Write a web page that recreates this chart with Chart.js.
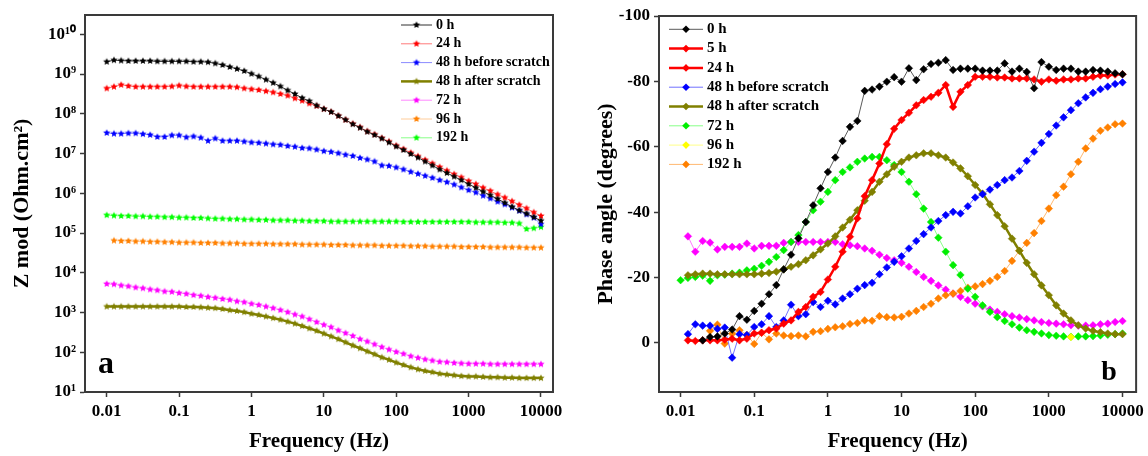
<!DOCTYPE html>
<html><head><meta charset="utf-8">
<script src="https://cdn.jsdelivr.net/npm/chart.js@4.4.1/dist/chart.umd.min.js"></script>
<style>
html,body{margin:0;padding:0;background:#fff;}
#wrap{position:relative;width:1148px;height:456px;overflow:hidden;background:#fff;}
canvas{position:absolute;top:0;}
#ca{left:0;} #cb{left:574px;}
</style></head><body>
<div id="wrap"><canvas id="ca" width="574" height="456"></canvas><canvas id="cb" width="574" height="456"></canvas></div>
<script>
// ---------- shared categories / ticks ----------
const frequencies = [
  0.01, 0.01259, 0.01585, 0.01995, 0.02512, 0.03162, 0.03981, 0.05012, 0.0631, 0.07943,
  0.1, 0.1259, 0.1585, 0.1995, 0.2512, 0.3162, 0.3981, 0.5012, 0.631, 0.7943,
  1, 1.259, 1.585, 1.995, 2.512, 3.162, 3.981, 5.012, 6.31, 7.943,
  10, 12.59, 15.85, 19.95, 25.12, 31.62, 39.81, 50.12, 63.1, 79.43,
  100, 125.9, 158.5, 199.5, 251.2, 316.2, 398.1, 501.2, 631, 794.3,
  1000, 1259, 1585, 1995, 2512, 3162, 3981, 5012, 6310, 7943, 10000];
const xTickValues = [0.01, 0.1, 1, 10, 100, 1000, 10000];
const xTickLabels = ['0.01', '0.1', '1', '10', '100', '1000', '10000'];
const zTickValues = [1e1, 1e2, 1e3, 1e4, 1e5, 1e6, 1e7, 1e8, 1e9, 1e10];
const zTickLabels = ['10¹', '10²', '10³', '10⁴', '10⁵', '10⁶', '10⁷', '10⁸', '10⁹', '10¹⁰'];
const phaseTickValues = [-100, -80, -60, -40, -20, 0];
const phaseTickLabels = ['-100', '-80', '-60', '-40', '-20', '0'];

// ---------- panel a : |Z| (Ohm.cm2) ----------
const zLabels = ['0 h', '24 h', '48 h before scratch', '48 h after scratch', '72 h', '96 h', '192 h'];
const z0h = [
  2.04e9, 2.24e9, 2.19e9, 2.14e9, 2.14e9, 2.14e9, 2.14e9, 2.09e9, 2.09e9, 2.09e9,
  2.09e9, 2.09e9, 2.04e9, 2.04e9, 2.0e9, 1.86e9, 1.70e9, 1.51e9, 1.35e9, 1.20e9,
  1.02e9, 8.71e8, 7.24e8, 6.03e8, 4.90e8, 3.89e8, 3.16e8, 2.51e8, 2.09e8, 1.62e8,
  1.32e8, 1.12e8, 8.91e7, 7.08e7, 5.50e7, 4.47e7, 3.55e7, 2.95e7, 2.40e7, 1.91e7,
  1.51e7, 1.23e7, 9.77e6, 7.94e6, 6.31e6, 5.01e6, 3.98e6, 3.24e6, 2.63e6, 2.14e6,
  1.70e6, 1.38e6, 1.10e6, 8.91e5, 7.24e5, 5.75e5, 4.57e5, 3.72e5, 3.09e5, 2.51e5, 2.04e5];
const z24h = [
  4.37e8, 4.79e8, 5.37e8, 5.01e8, 4.79e8, 4.79e8, 4.79e8, 4.79e8, 4.79e8, 4.90e8,
  5.13e8, 4.90e8, 4.79e8, 4.79e8, 4.79e8, 4.79e8, 4.79e8, 4.79e8, 4.68e8, 4.37e8,
  4.17e8, 3.98e8, 3.72e8, 3.47e8, 3.16e8, 2.88e8, 2.45e8, 2.14e8, 1.82e8, 1.58e8,
  1.32e8, 1.12e8, 8.91e7, 7.08e7, 5.62e7, 4.57e7, 3.63e7, 3.02e7, 2.45e7, 2.00e7,
  1.58e7, 1.29e7, 1.05e7, 8.51e6, 6.92e6, 5.62e6, 4.57e6, 3.72e6, 3.02e6, 2.51e6,
  2.04e6, 1.70e6, 1.38e6, 1.15e6, 9.33e5, 7.76e5, 6.31e5, 5.13e5, 4.17e5, 3.31e5, 2.69e5];
const z48hBefore = [
  3.31e7, 3.16e7, 3.16e7, 3.24e7, 3.24e7, 3.09e7, 2.95e7, 2.63e7, 2.63e7, 2.88e7,
  2.88e7, 2.57e7, 2.69e7, 2.51e7, 2.09e7, 2.40e7, 2.09e7, 2.09e7, 2.09e7, 2.00e7,
  1.91e7, 1.86e7, 1.78e7, 1.70e7, 1.66e7, 1.55e7, 1.48e7, 1.38e7, 1.35e7, 1.26e7,
  1.15e7, 1.10e7, 1.02e7, 9.33e6, 8.71e6, 7.76e6, 7.08e6, 6.31e6, 5.01e6, 4.90e6,
  4.47e6, 3.98e6, 3.47e6, 3.09e6, 2.75e6, 2.45e6, 2.14e6, 1.91e6, 1.66e6, 1.41e6,
  1.20e6, 1.05e6, 8.71e5, 7.41e5, 6.17e5, 5.25e5, 4.37e5, 3.63e5, 2.95e5, 2.45e5, 1.66e5];
const z48hAfter = [
  1410, 1410, 1410, 1410, 1410, 1410, 1410, 1410, 1410, 1410,
  1410, 1380, 1380, 1349, 1318, 1288, 1230, 1148, 1096, 1023,
  933, 871, 794, 724, 661, 589, 525, 457, 398, 347,
  295, 251, 214, 178, 148, 126, 105, 89.1, 74.1, 64.6,
  55.0, 47.9, 41.7, 37.2, 33.9, 31.6, 28.8, 27.5, 26.3, 25.1,
  24.5, 24.5, 24.0, 23.4, 23.4, 22.9, 22.9, 22.4, 22.4, 22.4, 22.4];
const z72h = [
  5250, 5130, 4790, 4570, 4270, 4070, 3800, 3630, 3390, 3310,
  3090, 2950, 2750, 2630, 2450, 2340, 2190, 2090, 1910, 1820,
  1660, 1550, 1410, 1290, 1150, 1020, 891, 794, 676, 575,
  490, 427, 355, 302, 257, 214, 186, 158, 135, 117,
  102, 91.2, 79.4, 72.4, 66.1, 61.7, 57.5, 56.2, 53.7, 52.5,
  51.3, 51.3, 51.3, 50.1, 50.1, 50.1, 50.1, 50.1, 50.1, 50.1, 50.1];
const z96h = [
  null, 6.46e4, 6.31e4, 6.31e4, 6.17e4, 6.17e4, 6.03e4, 6.03e4, 5.89e4, 5.89e4,
  5.75e4, 5.75e4, 5.75e4, 5.62e4, 5.62e4, 5.62e4, 5.50e4, 5.50e4, 5.50e4, 5.37e4,
  5.37e4, 5.37e4, 5.37e4, 5.25e4, 5.25e4, 5.25e4, 5.25e4, 5.13e4, 5.13e4, 5.13e4,
  5.13e4, 5.01e4, 5.01e4, 5.01e4, 4.90e4, 4.90e4, 4.90e4, 4.90e4, 4.79e4, 4.79e4,
  4.79e4, 4.79e4, 4.68e4, 4.68e4, 4.68e4, 4.57e4, 4.57e4, 4.57e4, 4.57e4, 4.47e4,
  4.47e4, 4.47e4, 4.47e4, 4.37e4, 4.37e4, 4.37e4, 4.37e4, 4.37e4, 4.27e4, 4.27e4, 4.27e4];
const z192h = [
  2.82e5, 2.75e5, 2.69e5, 2.69e5, 2.63e5, 2.63e5, 2.57e5, 2.57e5, 2.51e5, 2.51e5,
  2.45e5, 2.45e5, 2.40e5, 2.40e5, 2.34e5, 2.29e5, 2.29e5, 2.24e5, 2.24e5, 2.19e5,
  2.19e5, 2.14e5, 2.14e5, 2.09e5, 2.09e5, 2.09e5, 2.04e5, 2.04e5, 2.00e5, 2.00e5,
  2.00e5, 1.95e5, 1.95e5, 1.95e5, 1.95e5, 1.95e5, 1.95e5, 1.95e5, 1.95e5, 1.95e5,
  1.95e5, 1.91e5, 1.91e5, 1.91e5, 1.91e5, 1.91e5, 1.91e5, 1.91e5, 1.91e5, 1.91e5,
  1.91e5, 1.86e5, 1.86e5, 1.86e5, 1.86e5, 1.82e5, 1.82e5, 1.74e5, 1.26e5, 1.32e5, 1.41e5];

// ---------- panel b : phase angle (degrees) ----------
const phaseLabels = ['0 h', '5 h', '24 h', '48 h before scratch', '48 h after scratch', '72 h', '96 h', '192 h'];
const phase0h = [
  null, null, null, -0.8, -1.8, -2.0, -2.9, -4.1, -8.2, -7.1,
  -9.8, -12.0, -14.9, -17.7, -22.5, -27.0, -32.0, -37.0, -42.1, -47.3,
  -52.3, -56.7, -61.8, -66.1, -67.9, -77.1, -77.5, -78.4, -79.9, -81.3,
  -79.9, -84.0, -80.4, -83.7, -85.3, -85.7, -86.5, -83.5, -83.9, -83.9,
  -83.9, -83.3, -83.3, -83.3, -85.5, -83.0, -83.9, -82.9, -77.9, -85.9,
  -84.5, -83.5, -83.9, -83.9, -83.0, -83.0, -83.5, -83.3, -83.0, -82.5, -82.2];
const phase5h = [];
const phase24h = [
  null, -0.8, -0.6, -0.8, -0.8, -0.8, -1.0, -1.3, -0.8, -1.3,
  -2.9, -3.1, -3.9, -4.4, -5.9, -6.9, -9.5, -11.0, -14.1, -15.6,
  -19.4, -23.3, -27.9, -32.5, -38.1, -44.9, -49.8, -54.9, -60.8, -65.5,
  -68.2, -70.4, -72.7, -74.3, -75.3, -76.5, -78.9, -72.2, -76.8, -78.9,
  -81.4, -81.4, -81.4, -81.2, -81.2, -80.9, -80.9, -80.9, -80.6, -79.9,
  -80.6, -80.2, -80.6, -80.6, -80.9, -80.9, -81.4, -81.8, -81.8, -82.1, -82.2];
const phase48hBefore = [
  null, -2.7, -5.7, -5.3, -5.3, -4.3, -4.7, 4.5, -2.7, -2.4,
  -4.9, -5.7, -8.2, -4.9, -6.9, -11.7, -8.2, -8.8, -12.5, -11.0,
  -12.9, -11.8, -13.6, -14.9, -16.6, -17.7, -18.4, -21.0, -23.1, -24.8,
  -26.5, -28.9, -31.2, -33.3, -35.3, -37.3, -39.1, -40.1, -39.6, -41.8,
  -44.5, -45.5, -46.9, -48.3, -49.8, -50.6, -52.6, -55.7, -58.5, -61.2,
  -63.9, -66.5, -69.0, -71.2, -73.3, -75.1, -76.5, -77.6, -78.4, -79.2, -79.7];
const phase48hAfter = [
  null, -20.7, -21.0, -21.2, -21.2, -21.0, -21.0, -21.0, -21.0, -21.0,
  -21.0, -21.2, -21.4, -21.8, -22.5, -23.3, -24.1, -25.3, -26.8, -28.6,
  -30.4, -32.6, -35.3, -37.7, -40.6, -43.5, -46.2, -49.3, -51.6, -53.9,
  -55.4, -56.7, -57.4, -58.0, -58.0, -57.4, -56.7, -55.2, -53.4, -51.0,
  -48.3, -45.7, -42.4, -39.1, -35.7, -31.9, -28.2, -24.5, -21.0, -17.6,
  -14.6, -11.5, -9.0, -6.9, -5.4, -4.4, -3.7, -3.3, -2.9, -2.7, -2.7];
const phase72h = [
  -19.2, -19.9, -20.2, -20.6, -19.0, -20.7, -20.9, -21.2, -21.5, -22.2,
  -22.7, -23.6, -24.8, -26.3, -28.4, -30.9, -33.0, -37.0, -40.6, -43.2,
  -46.2, -49.8, -52.3, -53.7, -55.4, -56.4, -56.9, -56.9, -55.9, -54.4,
  -52.3, -49.3, -45.5, -41.1, -37.0, -32.2, -27.9, -23.8, -20.8, -16.6,
  -14.1, -11.5, -9.5, -7.9, -6.7, -5.7, -4.7, -3.9, -3.4, -2.9,
  -2.4, -2.2, -2.0, -1.9, -2.0, -2.0, -2.1, -2.3, -2.5, -2.7, -2.9];
const phase96h = [
  null, null, null, null, null, null, null, null, null, null,
  null, null, null, null, null, null, null, null, null, null,
  null, null, null, null, null, null, null, null, null, null,
  null, null, null, null, null, null, null, null, null, null,
  null, null, null, null, null, null, null, null, null, null,
  null, null, null, -1.8, null, null, null, null, null, null, null];
const phase192h = [
  null, null, null, null, -3.7, -5.6, 0.2, -2.8, -3.9, -2.5,
  0.3, -3.1, -1.1, -2.9, -2.3, -2.1, -2.3, -2.0, -3.4, -3.6,
  -4.3, -4.8, -5.1, -5.8, -6.1, -6.9, -6.8, -8.2, -7.9, -7.8,
  -8.0, -9.0, -9.8, -11.0, -12.0, -13.6, -14.6, -15.1, -15.9, -16.9,
  -17.3, -18.0, -19.0, -20.2, -22.0, -25.1, -28.2, -30.6, -33.6, -37.3,
  -41.1, -45.2, -47.8, -51.6, -55.4, -59.5, -62.5, -64.9, -65.9, -66.9, -67.1];
// magenta curve present in panel b but without legend entry
const phaseUnlabelled = [
  null, -32.6, -27.9, -31.2, -30.7, -28.6, -29.4, -29.4, -29.4, -30.4,
  -28.9, -29.7, -29.7, -29.7, -30.6, -30.9, -30.9, -30.9, -30.9, -30.9,
  -30.9, -30.9, -30.2, -29.9, -29.6, -28.9, -28.2, -27.0, -26.0, -25.3,
  -24.5, -23.3, -21.7, -20.2, -19.0, -17.6, -16.3, -15.1, -14.1, -13.1,
  -12.0, -11.2, -10.2, -9.5, -8.8, -8.2, -7.8, -7.3, -6.9, -6.4,
  -6.1, -5.9, -5.7, -5.4, -5.3, -5.3, -5.4, -5.7, -5.9, -6.4, -6.7];

// ---------- styling ----------
const FONT = "'Liberation Serif','Times New Roman',serif";
const AXIS = '#3a3a3a';

function starImage(color, r) {
  const s = Math.ceil(r * 2 + 2);
  const c = document.createElement('canvas');
  c.width = s; c.height = s;
  const g = c.getContext('2d');
  g.translate(s / 2, s / 2);
  g.beginPath();
  for (let k = 0; k < 10; k++) {
    const rad = k % 2 ? r * 0.45 : r;
    const a = -Math.PI / 2 + k * Math.PI / 5;
    g.lineTo(rad * Math.cos(a), rad * Math.sin(a));
  }
  g.closePath(); g.fillStyle = color; g.fill();
  return c;
}

function toPoints(values) {
  return frequencies.map((f, i) => ({ x: f, y: values[i] === undefined ? null : values[i] }));
}

const framePlugin = {
  id: 'frame',
  afterDatasetsDraw(chart) {
    const { ctx, chartArea: a } = chart;
    ctx.save();
    ctx.strokeStyle = AXIS; ctx.lineWidth = 2;
    ctx.strokeRect(a.left, a.top, a.right - a.left, a.bottom - a.top);
    ctx.restore();
  }
};

function legendPlugin(cfg) {
  return {
    id: 'customLegend',
    afterDraw(chart) {
      const ctx = chart.ctx;
      ctx.save();
      ctx.font = 'bold ' + cfg.fontSize + 'px ' + FONT;
      ctx.textBaseline = 'middle';
      let k = 0;
      chart.data.datasets.forEach(ds => {
        if (ds.hideInLegend) return;
        const y = cfg.y0 + k * cfg.dy;
        ctx.strokeStyle = ds.borderColor; ctx.lineWidth = ds.borderWidth;
        ctx.beginPath(); ctx.moveTo(cfg.x0, y); ctx.lineTo(cfg.x1, y); ctx.stroke();
        const mx = (cfg.x0 + cfg.x1) / 2;
        if (ds.pointStyle instanceof HTMLCanvasElement) {
          ctx.drawImage(ds.pointStyle, mx - ds.pointStyle.width / 2, y - ds.pointStyle.height / 2);
        } else {
          const r = ds.pointRadius;
          ctx.fillStyle = ds.pointBackgroundColor;
          ctx.beginPath(); ctx.moveTo(mx, y - r); ctx.lineTo(mx + r, y); ctx.lineTo(mx, y + r); ctx.lineTo(mx - r, y); ctx.closePath(); ctx.fill();
        }
        ctx.fillStyle = '#000';
        ctx.fillText(ds.label, cfg.xt, y);
        k++;
      });
      ctx.restore();
    }
  };
}

function panelLabelPlugin(text, x, y, size) {
  return {
    id: 'panelLabel',
    afterDraw(chart) {
      const ctx = chart.ctx;
      ctx.save();
      ctx.font = 'bold ' + size + 'px ' + FONT;
      ctx.fillStyle = '#000'; ctx.textAlign = 'center'; ctx.textBaseline = 'alphabetic';
      ctx.fillText(text, x, y);
      ctx.restore();
    }
  };
}

function axisCommon() {
  return {
    grid: { display: true, drawOnChartArea: false, drawTicks: true, tickLength: 5, tickColor: AXIS, tickWidth: 1.5 },
    border: { display: true, color: AXIS, width: 2 }
  };
}

function xAxis(min, max) {
  return Object.assign(axisCommon(), {
    type: 'logarithmic', min: min, max: max,
    afterBuildTicks: sc => { sc.ticks = xTickValues.map(v => ({ value: v })); },
    afterFit: sc => { sc.height = 64; },
    ticks: { autoSkip: false, maxRotation: 0, padding: 4, color: '#000',
      font: { family: FONT, size: 17, weight: 'bold' },
      callback: (v, i) => xTickLabels[i] },
    title: { display: true, text: 'Frequency (Hz)', color: '#000',
      font: { family: FONT, size: 21, weight: 'bold', lineHeight: 1 }, padding: { top: 0, bottom: 4 } }
  });
}

// ---------- panel a ----------
const seriesA = [
  { values: z0h, color: '#000000', line: '#303030', lw: 1 },
  { values: z24h, color: '#ff0000', line: '#ff7a7a', lw: 1 },
  { values: z48hBefore, color: '#0000ff', line: '#8a8aff', lw: 1 },
  { values: z48hAfter, color: '#808000', line: '#808000', lw: 2.5 },
  { values: z72h, color: '#ff00ff', line: '#ff88ff', lw: 1 },
  { values: z96h, color: '#ff8000', line: '#ffcc99', lw: 1 },
  { values: z192h, color: '#00ff00', line: '#88ff88', lw: 1 }
];

new Chart(document.getElementById('ca'), {
  type: 'scatter',
  data: {
    datasets: seriesA.map((s, k) => ({
      label: zLabels[k], data: toPoints(s.values), showLine: true, spanGaps: true, tension: 0,
      borderColor: s.line, borderWidth: s.lw, backgroundColor: s.color,
      pointStyle: starImage(s.color, 3.8), pointRadius: 4
    }))
  },
  options: {
    responsive: false, animation: false, devicePixelRatio: 1,
    layout: { padding: { left: 0, right: 21, top: 15, bottom: 0 } },
    plugins: { legend: { display: false }, tooltip: { enabled: false } },
    scales: {
      x: xAxis(0.005014, 14650),
      y: Object.assign(axisCommon(), {
        type: 'logarithmic', min: 10, max: 3.07e10,
        afterBuildTicks: sc => { sc.ticks = zTickValues.map(v => ({ value: v })); },
        afterFit: sc => { sc.width = 85; },
        ticks: { autoSkip: false, padding: 4, color: '#000',
          font: { family: FONT, size: 17, weight: 'bold' },
          callback: (v, i) => zTickLabels[i] },
        title: { display: true, text: 'Z mod (Ohm.cm²)', color: '#000',
          font: { family: FONT, size: 22, weight: 'bold', lineHeight: 1 }, padding: { top: 11, bottom: 0 } }
      })
    }
  },
  plugins: [framePlugin,
    legendPlugin({ x0: 401, x1: 432, xt: 436, y0: 25, dy: 18.8, fontSize: 14 }),
    panelLabelPlugin('a', 106, 373, 32)]
});

// ---------- panel b ----------
const seriesB = [
  { values: phase0h, color: '#000000', line: '#5a5a5a', lw: 1 },
  { values: phase5h, color: '#ff0000', line: '#ff0000', lw: 2.5 },
  { values: phase24h, color: '#ff0000', line: '#ff0000', lw: 2.5 },
  { values: phase48hBefore, color: '#0000ff', line: '#7070ff', lw: 1 },
  { values: phase48hAfter, color: '#808000', line: '#808000', lw: 2.5 },
  { values: phase72h, color: '#00ee00', line: '#88ff88', lw: 1 },
  { values: phase96h, color: '#ffff00', line: '#ffff88', lw: 1, order: -1 },
  { values: phase192h, color: '#ff8000', line: '#ffb870', lw: 1 }
];
const datasetsB = seriesB.map((s, k) => ({
  label: phaseLabels[k], data: toPoints(s.values), showLine: true, spanGaps: true, tension: 0,
  borderColor: s.line, borderWidth: s.lw, order: s.order || 0,
  pointStyle: 'rectRot', pointRadius: 3.8, pointBorderWidth: 0.5,
  pointBackgroundColor: s.color, pointBorderColor: s.color, backgroundColor: s.color
}));
datasetsB.push({
  label: 'unlabelled', hideInLegend: true, data: toPoints(phaseUnlabelled), showLine: true, spanGaps: true, tension: 0,
  borderColor: '#ff77ff', borderWidth: 1, pointStyle: 'rectRot', pointRadius: 3.8, pointBorderWidth: 0.5,
  pointBackgroundColor: '#ff00ff', pointBorderColor: '#ff00ff', backgroundColor: '#ff00ff'
});

new Chart(document.getElementById('cb'), {
  type: 'scatter',
  data: { datasets: datasetsB },
  options: {
    responsive: false, animation: false, devicePixelRatio: 1,
    layout: { padding: { left: 0, right: 9, top: 16, bottom: 0 } },
    plugins: { legend: { display: false }, tooltip: { enabled: false } },
    scales: {
      x: xAxis(0.005093, 15311),
      y: Object.assign(axisCommon(), {
        type: 'linear', min: -100, max: 15, reverse: true,
        afterBuildTicks: sc => { sc.ticks = phaseTickValues.map(v => ({ value: v })); },
        afterFit: sc => { sc.width = 85; },
        ticks: { autoSkip: false, padding: 4, color: '#000',
          font: { family: FONT, size: 17, weight: 'bold' },
          callback: (v, i) => phaseTickLabels[i] },
        title: { display: true, text: 'Phase angle (degrees)', color: '#000',
          font: { family: FONT, size: 22, weight: 'bold', lineHeight: 1 }, padding: { top: 21, bottom: 0 } }
      })
    }
  },
  plugins: [framePlugin,
    legendPlugin({ x0: 95, x1: 129, xt: 133, y0: 29.3, dy: 19.3, fontSize: 15 }),
    panelLabelPlugin('b', 535, 380, 28)]
});
</script>
</body></html>
